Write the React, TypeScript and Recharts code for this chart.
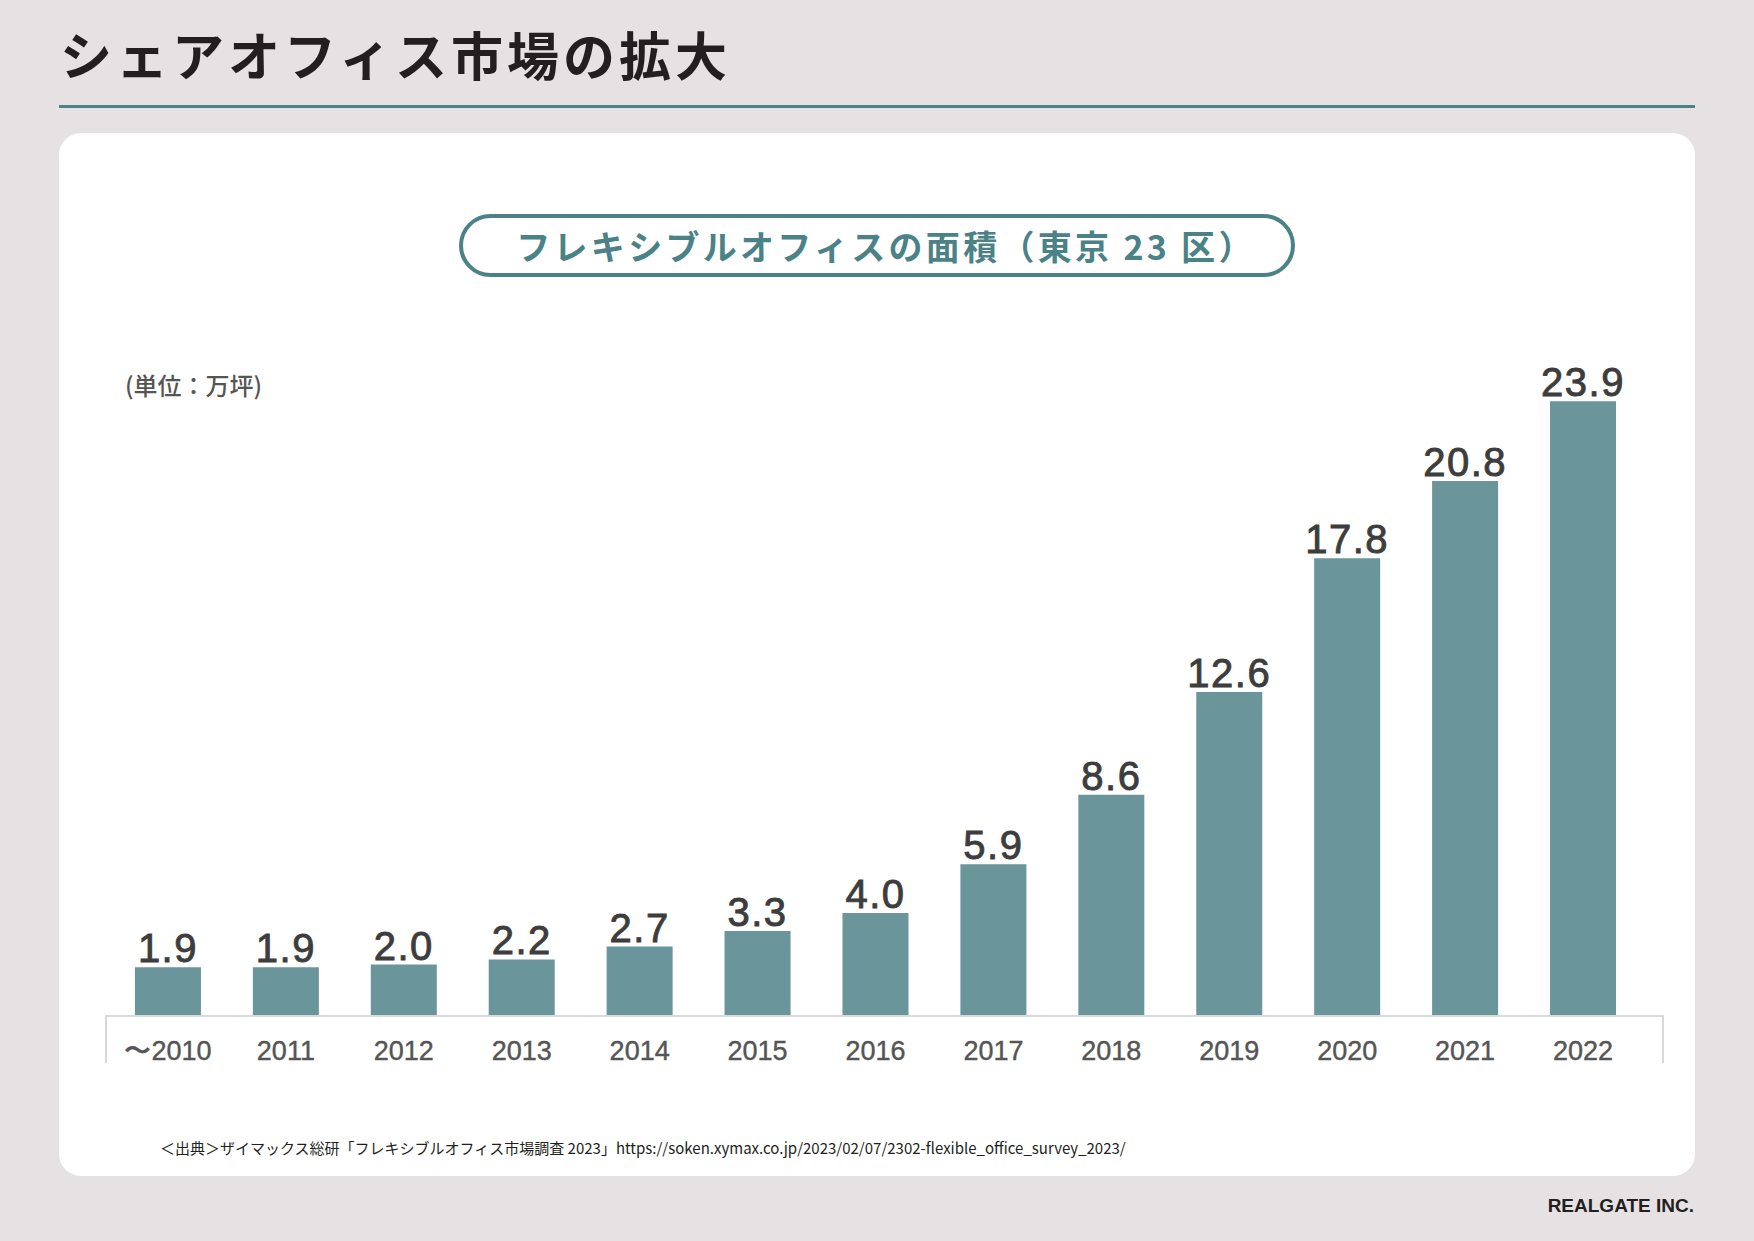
import React from "react";
import { BarChart, Bar, XAxis, YAxis, LabelList } from "recharts";

// data
const years = ["〜2010", "2011", "2012", "2013", "2014", "2015", "2016", "2017", "2018", "2019", "2020", "2021", "2022"];
const areas = [1.9, 1.9, 2.0, 2.2, 2.7, 3.3, 4.0, 5.9, 8.6, 12.6, 17.8, 20.8, 23.9];

const data = years.map((year, i) => ({ year, area: areas[i] }));

const TEAL = "#4a8287";
const BAR = "#6a959b";
const JP = '"Noto Sans CJK JP", "Noto Sans", sans-serif';
const NUM = '"Liberation Sans", Arial, sans-serif';

const YearTick = (props: any) => {
    const { x, y, payload } = props;
    return (
        <text x={x} y={y + 42} textAnchor="middle" fontSize={27} fill="#555" stroke="#555" strokeWidth={0.4} fontFamily={NUM}>
            {payload.value}
        </text>
    );
};

export default function App() {
    return (
        <div style={{ position: "absolute", left: 0, top: 0, width: 1754, height: 1241, background: "#e6e2e3", overflow: "hidden" }}>
            <div style={{ position: "absolute", left: 60, top: 18, fontFamily: JP, fontWeight: 700, fontSize: 52, letterSpacing: 4, color: "#231f20", lineHeight: "72px" }}>
                シェアオフィス市場の拡大
            </div>
            <div style={{ position: "absolute", left: 59, top: 105, width: 1636, height: 3, background: TEAL }} />

            <div style={{ position: "absolute", left: 59, top: 133, width: 1636, height: 1043, background: "#fff", borderRadius: 22 }}>
                <div style={{
                    position: "absolute", left: 400, top: 81, width: 836, height: 63, boxSizing: "border-box",
                    border: `4px solid ${TEAL}`, borderRadius: 32, display: "flex", alignItems: "center", justifyContent: "center",
                    paddingLeft: 18,
                    fontFamily: JP, fontWeight: 700, fontSize: 34, letterSpacing: 3.3, color: TEAL
                }}>
                    フレキシブルオフィスの面積（東京 23 区）
                </div>
                <div style={{ position: "absolute", left: 66, top: 236, fontFamily: JP, fontWeight: 500, fontSize: 24, color: "#555", lineHeight: "32px" }}>
                    (単位：万坪)
                </div>

                <BarChart
                    width={1636}
                    height={1043}
                    data={data}
                    margin={{ top: 240, right: 32, left: 47, bottom: 113 }}
                    barCategoryGap="22%"
                >
                    <XAxis
                        dataKey="year"
                        height={47}
                        padding={{ left: 3, right: 21 }}
                        axisLine={{ stroke: "#d9d9d9", strokeWidth: 2 }}
                        tickLine={false}
                        tickSize={0}
                        tick={<YearTick />}
                        interval={0}
                    />
                    <YAxis hide domain={[0, 25]} />
                    <Bar dataKey="area" fill={BAR} isAnimationActive={false}>
                        <LabelList
                            dataKey="area"
                            position="top"
                            offset={5}
                            fill="#3d3d3d"
                            stroke="#3d3d3d"
                            strokeWidth={0.9}
                            fontSize={40}
                            letterSpacing={1.5}
                            fontFamily={NUM}
                            formatter={(v: any) => Number(v).toFixed(1)}
                        />
                    </Bar>
                </BarChart>

                {/* side walls of the axis frame */}
                <div style={{ position: "absolute", left: 46, top: 882, width: 2, height: 48, background: "#d9d9d9" }} />
                <div style={{ position: "absolute", left: 1603, top: 882, width: 2, height: 48, background: "#d9d9d9" }} />

                <div style={{ position: "absolute", left: 101, top: 1004, fontFamily: JP, fontSize: 15, color: "#231f20", whiteSpace: "nowrap" }}>
                    ＜出典＞ザイマックス総研「フレキシブルオフィス市場調査 2023」https://soken.xymax.co.jp/2023/02/07/2302-flexible_office_survey_2023/
                </div>
            </div>

            <div style={{ position: "absolute", right: 60, top: 1195, fontFamily: NUM, fontWeight: 700, fontSize: 19, color: "#231f20" }}>
                REALGATE INC.
            </div>
        </div>
    );
}
